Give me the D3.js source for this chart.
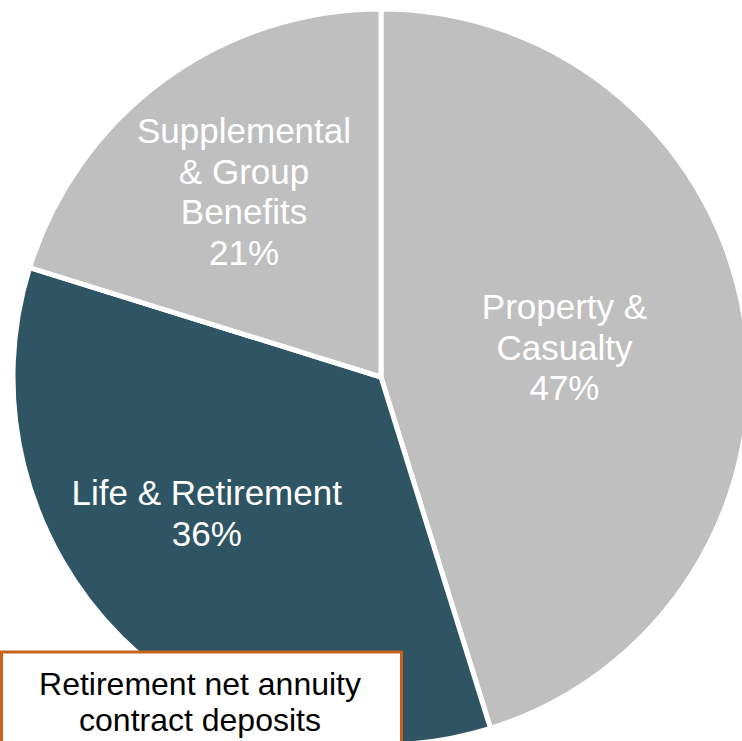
<!DOCTYPE html>
<html>
<head>
<meta charset="utf-8">
<script src="https://cdn.jsdelivr.net/npm/d3@7"></script>
<style>
  html, body { margin: 0; padding: 0; background: #fff; overflow: hidden; }
  svg { display: block; }
</style>
</head>
<body>
<svg id="chart" width="742" height="741"></svg>
<script>
// Segment shares of the business mix
const segments = ["Property & Casualty", "Life & Retirement", "Supplemental & Group Benefits"];
const shares = [47, 36, 21];
const labelLines = [
  ["Property &", "Casualty", "47%"],
  ["Life & Retirement", "36%"],
  ["Supplemental", "& Group", "Benefits", "21%"]
];
const sliceColors = ["#BFBFBF", "#2F5564", "#BFBFBF"];
const calloutLines = ["Retirement net annuity", "contract deposits"];

const svg = d3.select("#chart");
const cx = 381, cy = 377, radius = 368;

const pie = d3.pie().sort(null).value(d => d)
  .startAngle(0).endAngle(2 * Math.PI);
const arcs = pie(shares);

const arc = d3.arc().innerRadius(0).outerRadius(radius);
const labelArc = d3.arc().innerRadius(221).outerRadius(221);

const g = svg.append("g").attr("transform", `translate(${cx},${cy})`);

g.selectAll("path.slice")
  .data(arcs)
  .join("path")
  .attr("class", "slice")
  .attr("d", arc)
  .attr("fill", (d, i) => sliceColors[i])
  .attr("stroke", "#fff")
  .attr("stroke-width", 5)
  .attr("stroke-linejoin", "miter");

// Fine placement of each label block relative to its slice centroid
const nudge = [[-35, 4], [-18, -20], [-6, -7]];
const lineHeight = 40.5;
const fontSize = 35;

arcs.forEach((d, i) => {
  const [x0, y0] = labelArc.centroid(d);
  const x = x0 + nudge[i][0];
  const ym = y0 + nudge[i][1];
  const lines = labelLines[i];
  const firstBaseline = ym - (lines.length - 1) * lineHeight / 2 + 12;
  const t = g.append("text")
    .attr("text-anchor", "middle")
    .attr("font-family", "Liberation Sans, Arial, sans-serif")
    .attr("font-size", fontSize)
    .attr("fill", "#fff");
  lines.forEach((ln, k) => {
    t.append("tspan")
      .attr("x", x)
      .attr("y", firstBaseline + k * lineHeight)
      .text(ln);
  });
});

// Callout box at the lower left
const box = svg.append("g");
box.append("rect")
  .attr("x", 1.5).attr("y", 652)
  .attr("width", 400).attr("height", 120)
  .attr("fill", "#fff")
  .attr("stroke", "#C8631C")
  .attr("stroke-width", 3);
const ct = box.append("text")
  .attr("text-anchor", "middle")
  .attr("font-family", "Liberation Sans, Arial, sans-serif")
  .attr("font-size", 32)
  .attr("fill", "#000");
calloutLines.forEach((ln, k) => {
  ct.append("tspan").attr("x", 200).attr("y", 695 + k * 35.5).text(ln);
});
</script>
</body>
</html>
